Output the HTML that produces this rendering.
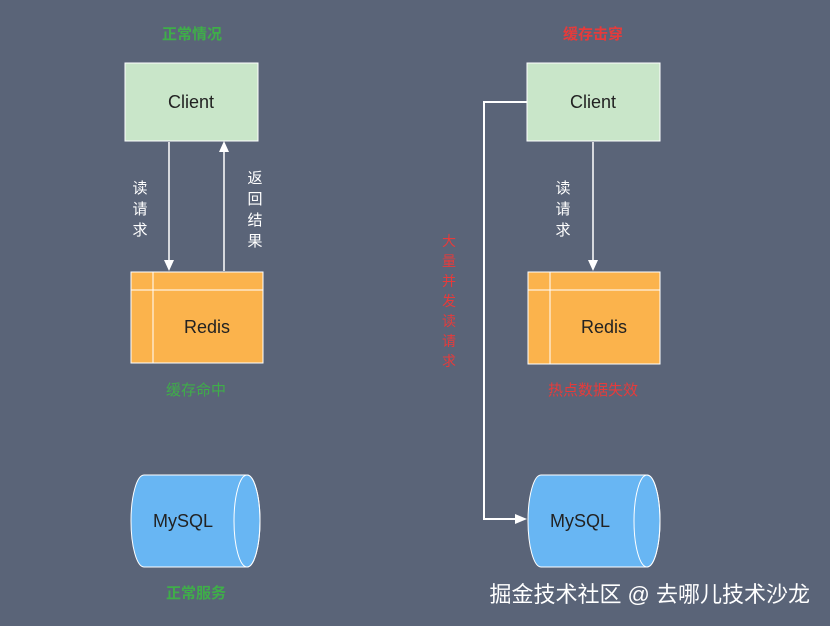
<!DOCTYPE html>
<html><head><meta charset="utf-8"><style>
html,body{margin:0;padding:0;background:#5a6478;}
svg{display:block;}
text{font-family:"Liberation Sans","Noto Sans CJK SC",sans-serif;}
</style></head><body>
<svg width="830" height="626" viewBox="0 0 830 626" xmlns="http://www.w3.org/2000/svg">
<rect width="830" height="626" fill="#5a6478"/>
<g font-size="15" font-weight="bold" text-anchor="middle">
<text x="192" y="39" fill="#3fae49">正常情况</text>
<text x="593" y="39" fill="#e63b3b">缓存击穿</text>
<text x="196" y="395" fill="#3fae49" font-weight="normal">缓存命中</text>
<text x="593" y="395" fill="#e63b3b" font-weight="normal">热点数据失效</text>
<text x="196" y="598" fill="#3fae49">正常服务</text>
</g>
<!-- left -->
<rect x="125" y="63" width="133" height="78" fill="#c9e6c9" stroke="#fff" stroke-width="1"/>
<text x="191" y="108" font-size="18" text-anchor="middle" fill="#222">Client</text>
<line x1="169" y1="142" x2="169" y2="262" stroke="#fff" stroke-width="1.5"/>
<polygon points="164,260 174,260 169,271" fill="#fff"/>
<line x1="224" y1="271" x2="224" y2="150" stroke="#fff" stroke-width="1.5"/>
<polygon points="219,152 229,152 224,141" fill="#fff"/>
<g font-size="15" fill="#fff" text-anchor="middle">
<text x="140" y="193">读</text><text x="140" y="214">请</text><text x="140" y="235">求</text>
<text x="255" y="183">返</text><text x="255" y="204">回</text><text x="255" y="225">结</text><text x="255" y="246">果</text>
<text x="563" y="193">读</text><text x="563" y="214">请</text><text x="563" y="235">求</text>
</g>
<rect x="131" y="272" width="132" height="91" fill="#fbb34c" stroke="#fff"/>
<line x1="131" y1="290" x2="263" y2="290" stroke="#fff"/>
<line x1="153" y1="272" x2="153" y2="363" stroke="#fff"/>
<text x="207" y="333" font-size="18" text-anchor="middle" fill="#222">Redis</text>
<path d="M144,475 L247,475 A13,46 0 0 1 247,567 L144,567 A13,46 0 0 1 144,475 Z" fill="#68b6f3" stroke="#fff"/>
<ellipse cx="247" cy="521" rx="13" ry="46" fill="none" stroke="#fff"/>
<text x="183" y="527" font-size="18" text-anchor="middle" fill="#222">MySQL</text>
<!-- right -->
<rect x="527" y="63" width="133" height="78" fill="#c9e6c9" stroke="#fff"/>
<text x="593" y="108" font-size="18" text-anchor="middle" fill="#222">Client</text>
<line x1="593" y1="142" x2="593" y2="262" stroke="#fff" stroke-width="1.5"/>
<polygon points="588,260 598,260 593,271" fill="#fff"/>
<rect x="528" y="272" width="132" height="92" fill="#fbb34c" stroke="#fff"/>
<line x1="528" y1="290" x2="660" y2="290" stroke="#fff"/>
<line x1="550" y1="272" x2="550" y2="364" stroke="#fff"/>
<text x="604" y="333" font-size="18" text-anchor="middle" fill="#222">Redis</text>
<path d="M541,475 L647,475 A13,46 0 0 1 647,567 L541,567 A13,46 0 0 1 541,475 Z" fill="#68b6f3" stroke="#fff"/>
<ellipse cx="647" cy="521" rx="13" ry="46" fill="none" stroke="#fff"/>
<text x="580" y="527" font-size="18" text-anchor="middle" fill="#222">MySQL</text>
<polyline points="527,102 484,102 484,519 516,519" fill="none" stroke="#fff" stroke-width="2"/>
<polygon points="515,514 527,519 515,524" fill="#fff"/>
<g font-size="14" fill="#e63b3b" text-anchor="middle">
<text x="449" y="246">大</text><text x="449" y="266">量</text><text x="449" y="286">并</text><text x="449" y="306">发</text><text x="449" y="326">读</text><text x="449" y="346">请</text><text x="449" y="366">求</text>
</g>
<text x="810" y="602" font-size="22" text-anchor="end" fill="#fff">掘金技术社区 @ 去哪儿技术沙龙</text>
</svg>
</body></html>
